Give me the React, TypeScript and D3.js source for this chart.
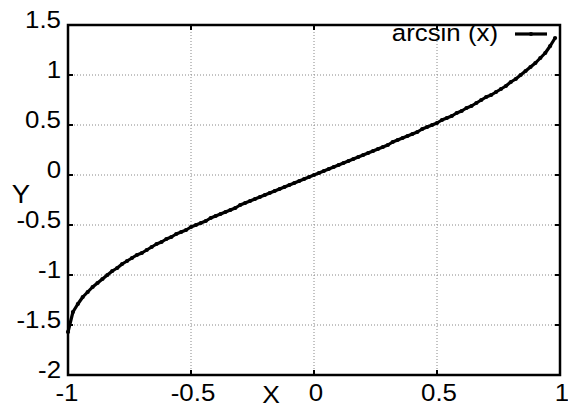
import React from "react";
import * as d3 from "d3";

const xs = [
  -1, -0.98, -0.96, -0.94, -0.92, -0.9, -0.88, -0.86, -0.84, -0.82,
  -0.8, -0.78, -0.76, -0.74, -0.72, -0.7, -0.68, -0.66, -0.64, -0.62,
  -0.6, -0.58, -0.56, -0.54, -0.52, -0.5, -0.48, -0.46, -0.44, -0.42,
  -0.4, -0.38, -0.36, -0.34, -0.32, -0.3, -0.28, -0.26, -0.24, -0.22,
  -0.2, -0.18, -0.16, -0.14, -0.12, -0.1, -0.08, -0.06, -0.04, -0.02,
  0, 0.02, 0.04, 0.06, 0.08, 0.1, 0.12, 0.14, 0.16, 0.18,
  0.2, 0.22, 0.24, 0.26, 0.28, 0.3, 0.32, 0.34, 0.36, 0.38,
  0.4, 0.42, 0.44, 0.46, 0.48, 0.5, 0.52, 0.54, 0.56, 0.58,
  0.6, 0.62, 0.64, 0.66, 0.68, 0.7, 0.72, 0.74, 0.76, 0.78,
  0.8, 0.82, 0.84, 0.86, 0.88, 0.9, 0.92, 0.94, 0.96, 0.98,
];
const ys = [
  -1.57, -1.37, -1.29, -1.22, -1.17, -1.12, -1.08, -1.04, -1.0, -0.96,
  -0.93, -0.89, -0.86, -0.83, -0.8, -0.78, -0.75, -0.72, -0.69, -0.67,
  -0.64, -0.62, -0.59, -0.57, -0.55, -0.52, -0.5, -0.48, -0.46, -0.43,
  -0.41, -0.39, -0.37, -0.35, -0.33, -0.3, -0.28, -0.26, -0.24, -0.22,
  -0.2, -0.18, -0.16, -0.14, -0.12, -0.1, -0.08, -0.06, -0.04, -0.02,
  0, 0.02, 0.04, 0.06, 0.08, 0.1, 0.12, 0.14, 0.16, 0.18,
  0.2, 0.22, 0.24, 0.26, 0.28, 0.3, 0.33, 0.35, 0.37, 0.39,
  0.41, 0.43, 0.46, 0.48, 0.5, 0.52, 0.55, 0.57, 0.59, 0.62,
  0.64, 0.67, 0.69, 0.72, 0.75, 0.78, 0.8, 0.83, 0.86, 0.89,
  0.93, 0.96, 1.0, 1.04, 1.08, 1.12, 1.17, 1.22, 1.29, 1.37,
];
const xTicks = [-1, -0.5, 0, 0.5, 1];
const yTicks = [-2, -1.5, -1, -0.5, 0, 0.5, 1, 1.5];
const seriesName = "arcsin (x)";

const W = 568;
const H = 408;
const margin = { top: 25, right: 8, bottom: 33, left: 68 };
const font = "'Liberation Sans', Arial, sans-serif";
const fs = 23.5;

// gnuplot's text comes out a little wide, so stretch it horizontally
function T({ x, y, anchor = "middle", size = fs, children }: any) {
  return (
    <text
      transform={`translate(${x},${y}) scale(1.1,1)`}
      textAnchor={anchor}
      fontFamily={font}
      fontSize={size}
      fill="#000"
    >
      {children}
    </text>
  );
}

export default function App() {
  const x = d3.scaleLinear().domain([-1, 1]).range([margin.left, W - margin.right]);
  const y = d3.scaleLinear().domain([-2, 1.5]).range([H - margin.bottom, margin.top]);
  const pts = xs.map((v, i) => [v, ys[i]] as [number, number]);
  const line = d3.line<[number, number]>().x(d => x(d[0])).y(d => y(d[1]));
  const [x0, x1] = x.range();
  const [y0, y1] = y.range();
  const tick = 5;

  return (
    <svg width={W} height={H} style={{ position: "absolute", left: 0, top: 0, background: "#fff" }}>
      {/* grid */}
      <g stroke="#888" strokeWidth={1} strokeDasharray="1,2">
        {xTicks.filter(t => t > -1 && t < 1).map(t => (
          <line key={"gx" + t} x1={x(t)} x2={x(t)} y1={y0} y2={y1} />
        ))}
        {yTicks.filter(t => t > -2 && t < 1.5).map(t => (
          <line key={"gy" + t} x1={x0} x2={x1} y1={y(t)} y2={y(t)} />
        ))}
      </g>
      {/* ticks, mirrored on all sides */}
      <g stroke="#000" strokeWidth={2}>
        {xTicks.map(t => (
          <g key={"tx" + t}>
            <line x1={x(t)} x2={x(t)} y1={y0} y2={y0 - tick} />
            <line x1={x(t)} x2={x(t)} y1={y1} y2={y1 + tick} />
          </g>
        ))}
        {yTicks.map(t => (
          <g key={"ty" + t}>
            <line x1={x0} x2={x0 + tick} y1={y(t)} y2={y(t)} />
            <line x1={x1} x2={x1 - tick} y1={y(t)} y2={y(t)} />
          </g>
        ))}
      </g>
      {/* tick labels */}
      {xTicks.map(t => (
        <T key={"lx" + t} x={x(t) + (t === 1 ? 2 : t === -1 ? -1 : 2)} y={y0 + 26}>
          {String(t)}
        </T>
      ))}
      {yTicks.map(t => (
        <T key={"ly" + t} x={x0 - 7} y={y(t) + 3} anchor="end">
          {String(t)}
        </T>
      ))}
      <T x={271} y={403} size={24}>X</T>
      <T x={21} y={203} size={25}>Y</T>
      {/* series */}
      <path d={line(pts) || ""} fill="none" stroke="#000" strokeWidth={3.2} strokeLinejoin="round" />
      <g fill="#000">
        {pts.map((d, i) => (
          <circle key={i} cx={x(d[0])} cy={y(d[1])} r={2.1} />
        ))}
      </g>
      {/* legend */}
      <T x={498} y={41} anchor="end">{seriesName}</T>
      <line x1={515} x2={547} y1={34} y2={34} stroke="#000" strokeWidth={3.2} />
      <circle cx={531} cy={34} r={2.1} fill="#000" />
      {/* border */}
      <rect x={x0} y={y1} width={x1 - x0} height={y0 - y1} fill="none" stroke="#000" strokeWidth={2.5} />
    </svg>
  );
}
